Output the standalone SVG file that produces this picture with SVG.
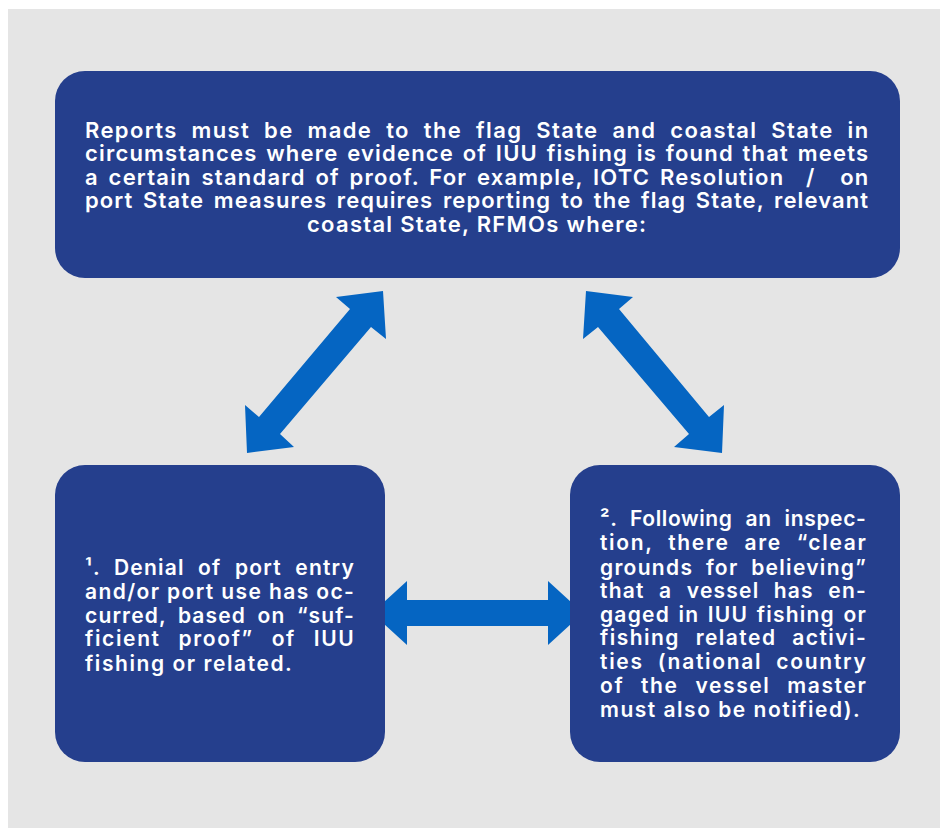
<svg xmlns="http://www.w3.org/2000/svg" width="940" height="828" viewBox="0 0 940 828">
  <style>
    .box { fill: #253F8D; }
    .arrow { fill: #0565C2; }
    .txt { font-family: Inter, "Liberation Sans", sans-serif; font-weight: 600; fill: #FFFFFF; }
    .top { font-size: 22px; letter-spacing: 0.9px; }
    .side { font-size: 21px; letter-spacing: 1.2px; }
    .end { text-anchor: end; }
  </style>

  <!-- page -->
  <rect x="0" y="0" width="940" height="828" fill="#FFFFFF"/>
  <rect x="8" y="9" width="932" height="819" fill="#E5E5E5"/>

  <!-- two-headed connectors -->
  <g id="connectors">
    <polygon class="arrow" points="383,291 336,297 350,309 259,417 245,405 247,453 294,447 280,434 371,327 386,339"/>
    <polygon class="arrow" points="586,291 633,297 619,309 709,417 724,405 722,453 674,447 689,434 598,327 583,339"/>
    <polygon class="arrow" points="372,613 407,581 407,600 548,600 548,581 583,613 548,645 548,626 407,626 407,645"/>
  </g>

  <!-- reporting requirement: justified lines, each stretched to the column width -->
  <g id="node-reports">
    <rect class="box" x="55" y="71" width="845" height="207" rx="30"/>
    <text class="txt top" x="85" y="137.5" textLength="784" lengthAdjust="spacing" style="word-spacing:7px"><tspan>Reports</tspan> <tspan>must</tspan> <tspan>be</tspan> <tspan>made</tspan> <tspan>to</tspan> <tspan>the</tspan> <tspan>flag</tspan> <tspan>State</tspan> <tspan>and</tspan> <tspan>coastal</tspan> <tspan>State</tspan> <tspan>in</tspan></text>
    <text class="txt top" x="85" y="161" textLength="784" lengthAdjust="spacing" style="word-spacing:2px"><tspan>circumstances</tspan> <tspan>where</tspan> <tspan>evidence</tspan> <tspan>of</tspan> <tspan>IUU</tspan> <tspan>fishing</tspan> <tspan>is</tspan> <tspan>found</tspan> <tspan>that</tspan> <tspan>meets</tspan></text>
    <text class="txt top" x="85" y="184.5" textLength="699" lengthAdjust="spacing" style="word-spacing:3px"><tspan>a</tspan> <tspan>certain</tspan> <tspan>standard</tspan> <tspan>of</tspan> <tspan>proof.</tspan> <tspan>For</tspan> <tspan>example,</tspan> <tspan>IOTC</tspan> <tspan>Resolution</tspan></text>
    <text class="txt top" x="806" y="184.5">/</text>
    <text class="txt top end" x="869" y="184.5">on</text>
    <text class="txt top" x="85" y="208" textLength="784" lengthAdjust="spacing" style="word-spacing:3px"><tspan>port</tspan> <tspan>State</tspan> <tspan>measures</tspan> <tspan>requires</tspan> <tspan>reporting</tspan> <tspan>to</tspan> <tspan>the</tspan> <tspan>flag</tspan> <tspan>State,</tspan> <tspan>relevant</tspan></text>
    <text class="txt top" x="307" y="231.5" textLength="340" lengthAdjust="spacing"><tspan>coastal</tspan> <tspan>State,</tspan> <tspan>RFMOs</tspan> <tspan>where:</tspan></text>
  </g>

  <!-- case 1 -->
  <g id="node-denial">
    <rect class="box" x="55" y="465" width="330" height="297" rx="30"/>
    <text class="txt side" x="85" y="575" textLength="270" lengthAdjust="spacing" style="word-spacing:7px"><tspan>¹.</tspan> <tspan>Denial</tspan> <tspan>of</tspan> <tspan>port</tspan> <tspan>entry</tspan></text>
    <text class="txt side" x="85" y="598.5" textLength="270" lengthAdjust="spacing" style="word-spacing:0px"><tspan>and/or</tspan> <tspan>port</tspan> <tspan>use</tspan> <tspan>has</tspan> <tspan>oc-</tspan></text>
    <text class="txt side" x="85" y="622.5" textLength="270" lengthAdjust="spacing" style="word-spacing:5px"><tspan>curred,</tspan> <tspan>based</tspan> <tspan>on</tspan> <tspan>“suf-</tspan></text>
    <text class="txt side" x="85" y="646" textLength="270" lengthAdjust="spacing" style="word-spacing:11px"><tspan>ficient</tspan> <tspan>proof”</tspan> <tspan>of</tspan> <tspan>IUU</tspan></text>
    <text class="txt side" x="85" y="670.5" textLength="208" lengthAdjust="spacing"><tspan>fishing</tspan> <tspan>or</tspan> <tspan>related.</tspan></text>
  </g>

  <!-- case 2 -->
  <g id="node-inspection">
    <rect class="box" x="570" y="465" width="330" height="297" rx="30"/>
    <text class="txt side" x="600" y="525.5" textLength="267" lengthAdjust="spacing" style="word-spacing:7px"><tspan>².</tspan> <tspan>Following</tspan> <tspan>an</tspan> <tspan>inspec-</tspan></text>
    <text class="txt side" x="600" y="550" textLength="267" lengthAdjust="spacing" style="word-spacing:8px"><tspan>tion,</tspan> <tspan>there</tspan> <tspan>are</tspan> <tspan>“clear</tspan></text>
    <text class="txt side" x="600" y="574.5" textLength="267" lengthAdjust="spacing" style="word-spacing:6px"><tspan>grounds</tspan> <tspan>for</tspan> <tspan>believing”</tspan></text>
    <text class="txt side" x="600" y="597.5" textLength="267" lengthAdjust="spacing" style="word-spacing:8px"><tspan>that</tspan> <tspan>a</tspan> <tspan>vessel</tspan> <tspan>has</tspan> <tspan>en-</tspan></text>
    <text class="txt side" x="600" y="621.5" textLength="267" lengthAdjust="spacing" style="word-spacing:2px"><tspan>gaged</tspan> <tspan>in</tspan> <tspan>IUU</tspan> <tspan>fishing</tspan> <tspan>or</tspan></text>
    <text class="txt side" x="600" y="645" textLength="267" lengthAdjust="spacing" style="word-spacing:9px"><tspan>fishing</tspan> <tspan>related</tspan> <tspan>activi-</tspan></text>
    <text class="txt side" x="600" y="669" textLength="267" lengthAdjust="spacing" style="word-spacing:7px"><tspan>ties</tspan> <tspan>(national</tspan> <tspan>country</tspan></text>
    <text class="txt side" x="600" y="693" textLength="267" lengthAdjust="spacing" style="word-spacing:10px"><tspan>of</tspan> <tspan>the</tspan> <tspan>vessel</tspan> <tspan>master</tspan></text>
    <text class="txt side" x="600" y="717" textLength="261" lengthAdjust="spacing"><tspan>must</tspan> <tspan>also</tspan> <tspan>be</tspan> <tspan>notified).</tspan></text>
  </g>
</svg>
